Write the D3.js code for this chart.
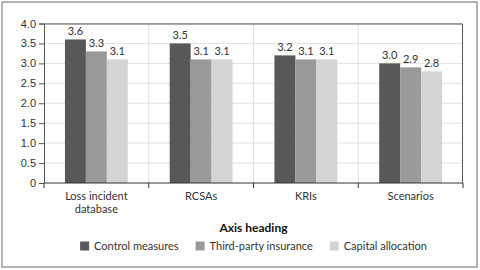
<!DOCTYPE html>
<html>
<head>
<meta charset="utf-8">
<script src="https://cdn.jsdelivr.net/npm/d3@7"></script>
<style>
  body { margin: 0; background: #fff; }
  svg { display: block; font-family: "Lato", "Open Sans", sans-serif; }
  .tick text { fill: #333; font-size: 11px; }
</style>
</head>
<body>
<div id="chart"></div>
<script>
// data
const categories = [["Loss incident", "database"], ["RCSAs"], ["KRIs"], ["Scenarios"]];
const seriesNames = ["Control measures", "Third-party insurance", "Capital allocation"];
const controlMeasures = [3.6, 3.5, 3.2, 3.0];
const thirdParty = [3.3, 3.1, 3.1, 2.9];
const capitalAllocation = [3.1, 3.1, 3.1, 2.8];
const yTicks = [0, 0.5, 1.0, 1.5, 2.0, 2.5, 3.0, 3.5, 4.0];
const colors = ["#58585a", "#9a9a9a", "#d4d4d4"];

const series = [controlMeasures, thirdParty, capitalAllocation];

const W = 480, H = 270;
const margin = { top: 23.5, right: 17, bottom: 87, left: 44 };
const width = W - margin.left - margin.right,
    height = H - margin.top - margin.bottom;

const svg = d3.select("#chart").append("svg")
    .attr("width", W)
    .attr("height", H);

// outer frame
svg.append("rect")
    .attr("x", 2).attr("y", 2)
    .attr("width", 475).attr("height", 265)
    .attr("fill", "none")
    .attr("stroke", "#9a9a9a")
    .attr("stroke-width", 1.5);

const g = svg.append("g")
    .attr("transform", "translate(" + margin.left + "," + margin.top + ")");

const idx = d3.range(categories.length);
const x0 = d3.scaleBand().domain(idx).range([0, width]);
const x1 = d3.scaleBand().domain(d3.range(series.length))
    .range([x0.bandwidth() * 0.2, x0.bandwidth() * 0.8]);
const y = d3.scaleLinear().domain([0, 4]).range([height, 0]);

// grid
g.selectAll(".hgrid").data(yTicks.slice(1)).enter().append("line")
    .attr("x1", 0).attr("x2", width)
    .attr("y1", d => y(d)).attr("y2", d => y(d))
    .attr("stroke", "#e2e2e2");
g.selectAll(".vgrid").data(idx.slice(1)).enter().append("line")
    .attr("x1", d => x0(d)).attr("x2", d => x0(d))
    .attr("y1", 0).attr("y2", height)
    .attr("stroke", "#e2e2e2");

// plot border top & right
g.append("path")
    .attr("d", "M0,0.5H" + (width - 0.5) + "V" + height)
    .attr("fill", "none")
    .attr("stroke", "#555");

// bars
idx.forEach(i => {
    const grp = g.append("g").attr("transform", "translate(" + x0(i) + ",0)");
    series.forEach((s, j) => {
        grp.append("rect")
            .attr("x", x1(j))
            .attr("y", y(s[i]))
            .attr("width", x1.bandwidth())
            .attr("height", height - y(s[i]))
            .attr("fill", colors[j]);
        grp.append("text")
            .attr("x", x1(j) + x1.bandwidth() / 2)
            .attr("y", y(s[i]) - 4)
            .attr("text-anchor", "middle")
            .attr("fill", "#333")
            .style("font-size", "11px")
            .text(s[i].toFixed(1));
    });
});

// y axis
g.append("g")
    .call(d3.axisLeft(y).tickValues(yTicks).tickSize(5).tickPadding(3)
        .tickFormat(d => d === 0 ? "0" : d.toFixed(1)))
    .call(a => a.select(".domain").attr("stroke", "#555").attr("d", "M-5,0.5H0.5V" + height))
    .call(a => a.selectAll(".tick line").attr("stroke", "#555"));

// x axis
const xAxis = g.append("g").attr("transform", "translate(0," + height + ")");
xAxis.append("line").attr("x1", 0).attr("x2", width).attr("stroke", "#333");
xAxis.selectAll(".xt").data(d3.range(categories.length + 1)).enter().append("line")
    .attr("x1", d => d * x0.step()).attr("x2", d => d * x0.step())
    .attr("y1", 0).attr("y2", 5)
    .attr("stroke", "#333");
xAxis.selectAll(".xl").data(idx).enter().append("text")
    .attr("x", d => x0(d) + x0.bandwidth() / 2)
    .attr("y", 17)
    .attr("text-anchor", "middle")
    .attr("fill", "#333")
    .style("font-size", "11px")
    .each(function (d) {
        const t = d3.select(this);
        categories[d].forEach((line, k) => {
            t.append("tspan").attr("x", x0(d) + x0.bandwidth() / 2)
                .attr("dy", k === 0 ? 0 : 13).text(line);
        });
    });

// axis heading
svg.append("text")
    .attr("x", margin.left + width / 2)
    .attr("y", 232)
    .attr("text-anchor", "middle")
    .attr("fill", "#111")
    .style("font-size", "12px")
    .style("font-weight", "bold")
    .text("Axis heading");

// legend
const legend = svg.append("g");
let lx = 0;
seriesNames.forEach((name, j) => {
    const item = legend.append("g").attr("transform", "translate(" + lx + ",0)");
    item.append("rect").attr("x", 0).attr("y", 241.5).attr("width", 9).attr("height", 9)
        .attr("fill", colors[j]);
    const t = item.append("text").attr("x", 14).attr("y", 250)
        .attr("fill", "#333").style("font-size", "11px").text(name);
    lx += 14 + t.node().getComputedTextLength() + 17;
});
const lw = lx - 17;
legend.attr("transform", "translate(" + (margin.left + width / 2 - lw / 2) + ",0)");
</script>
</body>
</html>
